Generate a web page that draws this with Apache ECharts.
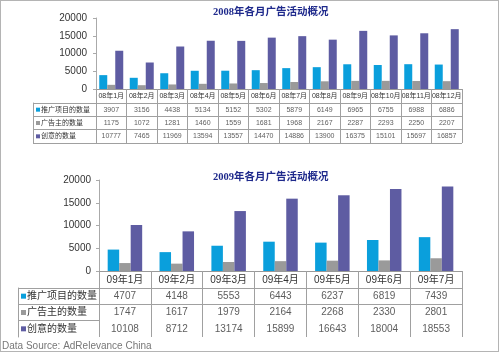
<!DOCTYPE html>
<html><head><meta charset="utf-8">
<script src="https://cdn.jsdelivr.net/npm/echarts@6/dist/echarts.min.js"></script>
<style>
html,body{margin:0;padding:0;background:#fff}
#c{width:500px;height:353px}
#f{position:absolute;left:0;top:0;width:499px;height:352px;border:1px solid #b4b4b4;box-sizing:border-box;pointer-events:none}
</style>
</head><body><div id="c"></div><div id="f"></div>
<script>
const months08 = ['08年1月','08年2月','08年3月','08年4月','08年5月','08年6月','08年7月','08年8月','08年9月','08年10月','08年11月','08年12月'];
const promo08 = [3907,3156,4438,5134,5152,5302,5879,6149,6965,6755,6988,6886];
const advertisers08 = [1175,1072,1281,1460,1559,1681,1968,2167,2287,2293,2250,2207];
const creatives08 = [10777,7465,11969,13594,13557,14470,14886,13900,16375,15101,15697,16857];

const months09 = ['09年1月','09年2月','09年3月','09年4月','09年5月','09年6月','09年7月'];
const promo09 = [4707,4148,5553,6443,6237,6819,7439];
const advertisers09 = [1747,1617,1979,2164,2268,2330,2801];
const creatives09 = [10108,8712,13174,15899,16643,18004,18553];

const rowNames = ['推广项目的数量','广告主的数量','创意的数量'];
const yTicks = [0,5000,10000,15000,20000];

const colors = ['#0a9fdc','#9a9a9a','#5e5ca2'];
const FONT = '"Liberation Sans", Arial, "Noto Sans CJK SC", sans-serif';
const LINE = '#a0a0a0';

const chart = echarts.init(document.getElementById('c'));

function tableCells(series) {
  const out = [];
  series.forEach((vals, r) => vals.forEach((v, i) => out.push([i, r + 0.5, v])));
  return out;
}

function build(months, seriesVals, g, opt) {
  const xAxes = [
    {gridIndex: g, type: 'category', data: months,
     axisLine: {lineStyle: {color: '#999'}},
     axisTick: {show: true, length: opt.headH, lineStyle: {color: LINE}},
     axisLabel: {interval: 0, fontSize: opt.fs, margin: opt.hm, color: '#333', fontFamily: FONT},
     splitLine: {show: false}},
    {gridIndex: g + 1, type: 'category', data: months,
     axisLine: {show: false}, axisTick: {show: false}, axisLabel: {show: false},
     splitLine: {show: true, interval: 0, lineStyle: {color: LINE}}}
  ];
  const rich = {t: {fontSize: opt.fs, color: '#333', fontFamily: FONT}};
  colors.forEach((c, i) => {
    rich['k' + i] = {width: opt.key, height: opt.key, backgroundColor: c};
  });
  rich.s = {width: opt.keyGap};
  const yAxes = [
    {gridIndex: g, type: 'value', min: yTicks[0], max: yTicks[yTicks.length - 1], interval: yTicks[1] - yTicks[0],
     axisLine: {show: true, lineStyle: {color: '#aaa'}},
     axisTick: {show: true, length: 3, lineStyle: {color: '#aaa'}},
     splitLine: {show: false},
     axisLabel: {fontSize: 10, margin: opt.ym, color: '#333', fontFamily: FONT, formatter: (v) => String(v)}},
    {gridIndex: g + 1, type: 'value', min: 0, max: 3, interval: 1, inverse: true,
     axisLine: {show: false},
     axisTick: {show: true, length: opt.legW, lineStyle: {color: LINE},
                customValues: opt.lastLine ? [0, 1, 2, 3] : [0, 1, 2]},
     splitLine: {show: true, showMaxLine: opt.lastLine, lineStyle: {color: LINE}},
     axisLabel: {customValues: [0.5, 1.5, 2.5], align: 'left', margin: opt.legW - 3,
                 formatter: (v) => { const i = Math.floor(v); return '{k' + i + '| }{s| }{t|' + rowNames[i] + '}'; },
                 rich: rich}},
    {gridIndex: g + 1, type: 'value', min: 0, max: 3, inverse: true, position: 'left', offset: opt.legW,
     axisLine: {show: true, lineStyle: {color: LINE}},
     axisTick: {show: false}, axisLabel: {show: false}, splitLine: {show: false}}
  ];
  const yBase = g === 0 ? 0 : 3;
  const series = seriesVals.map((vals, i) => ({
    type: 'bar', xAxisIndex: g, yAxisIndex: yBase, data: vals,
    barWidth: opt.bw, barGap: '0%', itemStyle: {color: colors[i]}, silent: true
  }));
  series.push({
    type: 'scatter', xAxisIndex: g + 1, yAxisIndex: yBase + 1, data: tableCells(seriesVals),
    symbol: 'rect', symbolSize: 1, itemStyle: {color: 'rgba(0,0,0,0)'}, silent: true,
    label: {show: true, position: 'inside', formatter: (p) => String(p.value[2]),
            fontSize: opt.fs, color: '#333', fontFamily: FONT}
  });
  return {xAxes, yAxes, series};
}

const a = build(months08, [promo08, advertisers08, creatives08], 0,
  {headH: 14, fs: 7, hm: 4, ym: 9, legW: 63, key: 4, keyGap: 1, bw: 8, lastLine: true});
const b = build(months09, [promo09, advertisers09, creatives09], 2,
  {headH: 17, fs: 10, hm: 4, ym: 8, legW: 81, key: 5, keyGap: 1, bw: 11.5, lastLine: false});

const titleFont = '"Liberation Serif", "Noto Sans CJK SC", serif';
chart.setOption({
  animation: false,
  backgroundColor: '#fff',
  title: [
    {text: '2008年各月广告活动概况', left: 213, top: 7, padding: 0,
     textStyle: {fontSize: 10.5, fontWeight: 'bold', color: '#1f2a8c', fontFamily: titleFont}},
    {text: '2009年各月广告活动概况', left: 213, top: 172, padding: 0,
     textStyle: {fontSize: 10.5, fontWeight: 'bold', color: '#1f2a8c', fontFamily: titleFont}},
    {text: 'Data Source: AdRelevance China', left: 2, top: 341, padding: 0,
     textStyle: {fontSize: 10, fontWeight: 'normal', color: '#777', fontFamily: FONT}}
  ],
  grid: [
    {left: 96, right: 38, top: 18, height: 71},
    {left: 96, right: 38, top: 103, height: 40},
    {left: 99, right: 38, top: 180, height: 91},
    {left: 99, right: 38, top: 288, height: 49}
  ],
  xAxis: a.xAxes.concat(b.xAxes),
  yAxis: a.yAxes.concat(b.yAxes),
  series: a.series.concat(b.series)
});
</script>
</body></html>
